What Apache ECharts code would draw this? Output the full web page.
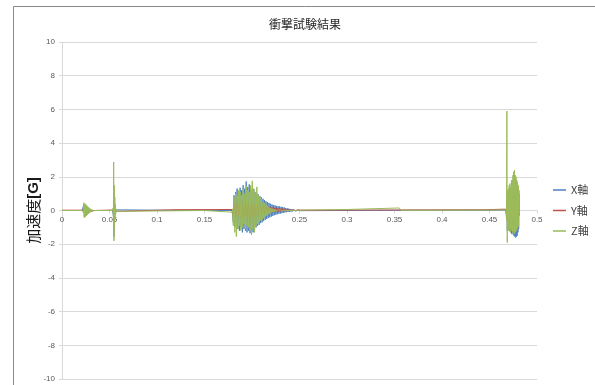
<!DOCTYPE html>
<html>
<head>
<meta charset="utf-8">
<script src="https://cdn.jsdelivr.net/npm/echarts@6/dist/echarts.min.js"></script>
<style>
  html, body { margin: 0; padding: 0; background: #fff; }
  #chart { width: 595px; height: 385px; }
</style>
</head>
<body>
<div id="chart"></div>
<script>
// Shock test record: acceleration [G] on three axes against time [s]

const seriesNames = ['X軸', 'Y軸', 'Z軸'];
const xTicks = { min: 0, max: 0.5, step: 0.05 };
const yTicks = { min: -10, max: 10, step: 2 };

// Quiet stretches between the shocks: [time, G]
const quietX = [[0, 0], [0.0213, 0], [0.0345, 0], [0.0532, 0], [0.0578, 0], [0.12, 0.01], [0.179, 0], [0.2525, 0.01], [0.35, 0.01], [0.467, 0.02]];
const quietY = [[0, 0.02], [0.0213, 0.02], [0.0345, 0.02], [0.0532, 0.03], [0.0578, 0.03], [0.12, 0.05], [0.179, 0.06], [0.2525, 0.05], [0.35, 0.03], [0.44, 0.04], [0.467, 0.08]];
const quietZ = [[0, 0], [0.0213, 0], [0.0345, 0], [0.0532, 0], [0.0578, 0], [0.15, 0], [0.179, -0.1], [0.2525, 0.02], [0.3, 0.06], [0.355, 0.15], [0.357, 0.01], [0.467, 0.03]];

// Recorded shocks: first sample time, sample step, samples per axis
const shock1Start = 0.0215, shock1Step = 0.0005;
const shock1X = [0, 0.04, -0.1, 0.38, -0.35, 0.33, -0.3, 0.28, -0.26, 0.23, -0.2, 0.18, -0.16, 0.14, -0.12, 0.1, -0.08, 0.07, -0.05, 0.04, -0.03, 0.02, -0.02, 0.01, 0, 0];
const shock1Y = [0, 0.02, -0.05, 0.12, -0.1, 0.1, -0.08, 0.08, -0.07, 0.06, -0.05, 0.05, -0.04, 0.03, -0.03, 0.02, -0.02, 0.02, -0.01, 0.01, 0, 0, 0, 0, 0, 0];
const shock1Z = [0, 0.06, -0.12, 0.46, -0.43, 0.41, -0.38, 0.36, -0.33, 0.3, -0.27, 0.24, -0.21, 0.19, -0.16, 0.14, -0.12, 0.1, -0.08, 0.07, -0.05, 0.04, -0.03, 0.02, -0.01, 0];

const shock2Start = 0.0535, shock2Step = 0.0003;
const shock2X = [0, 0.1, -0.3, 1.2, -1.55, 0.9, -0.6, 0.4, -0.25, 0.15, -0.08, 0.04, -0.02, 0];
const shock2Y = [0, 0.05, -0.1, 0.4, -0.35, 0.25, -0.15, 0.1, -0.06, 0.03, -0.02, 0.01, 0, 0];
const shock2Z = [0, 0.15, -0.4, 2.88, -1.8, 1.5, -1.1, 0.8, -0.55, 0.35, -0.2, 0.1, -0.05, 0];

const shock3Start = 0.1795, shock3Step = 0.0008;
const shock3X = [
  0.05, -0.7, 0.9, -1.0, 1.1, -0.9, 1.3, -1.1, 1.0, -1.2,
  1.35, -1.0, 1.2, -1.3, 1.5, -1.1, 1.3, -1.2, 1.72, -1.3,
  1.4, -1.2, 1.55, -1.35, 1.3, -1.25, 1.2, -1.3, 1.25, -1.1,
  1.1, -1.0, 1.0, -0.9, 0.95, -0.85, 0.85, -0.75, 0.78, -0.7,
  0.7, -0.62, 0.62, -0.55, 0.55, -0.5, 0.5, -0.45, 0.45, -0.4,
  0.4, -0.36, 0.36, -0.32, 0.32, -0.28, 0.3, -0.25, 0.27, -0.22,
  0.25, -0.2, 0.24, -0.18, 0.22, -0.16, 0.2, -0.14, 0.18, -0.12,
  0.15, -0.1, 0.13, -0.09, 0.11, -0.08, 0.09, -0.07, 0.08, -0.06,
  0.06, -0.05, 0.05, -0.04, 0.04, -0.03, 0.03, -0.02, 0.02, -0.01,
  0
];
const shock3Y = [
  0.05, -0.3, 0.35, -0.4, 0.3, -0.35, 0.45, -0.3, 0.4, -0.35,
  0.4, -0.45, 0.35, -0.4, 0.5, -0.35, 0.4, -0.45, 0.5, -0.4,
  0.45, -0.4, 0.4, -0.5, 0.45, -0.35, 0.4, -0.4, 0.35, -0.3,
  0.35, -0.3, 0.3, -0.25, 0.3, -0.22, 0.28, -0.2, 0.26, -0.18,
  0.25, -0.16, 0.24, -0.15, 0.22, -0.14, 0.22, -0.12, 0.2, -0.11,
  0.19, -0.1, 0.18, -0.09, 0.17, -0.08, 0.16, -0.07, 0.15, -0.06,
  0.14, -0.05, 0.13, -0.05, 0.12, -0.04, 0.11, -0.04, 0.1, -0.03,
  0.09, -0.03, 0.08, -0.02, 0.07, -0.02, 0.07, -0.01, 0.06, -0.01,
  0.05, 0, 0.05, 0, 0.04, 0, 0.04, 0.01, 0.03, 0.02,
  0.03
];
const shock3Z = [
  0.1, -0.9, 0.8, -1.3, 1.0, -1.55, 0.9, -1.1, 1.2, -0.9,
  1.1, -1.2, 0.9, -1.0, 1.3, -0.8, 1.0, -1.1, 1.45, -0.9,
  1.2, -1.0, 1.1, -1.2, 1.5, -1.45, 1.76, -1.1, 1.3, -1.3,
  1.1, -0.9, 1.4, -0.8, 0.9, -0.7, 0.8, -0.6, 0.7, -0.55,
  0.5, -0.45, 0.45, -0.35, 0.35, -0.3, 0.28, -0.22, 0.2, -0.18,
  0.15, -0.12, 0.12, -0.1, 0.09, -0.07, 0.07, -0.05, 0.05, -0.04,
  0.04, 0.03, -0.03, 0.03, -0.02, 0.02, -0.02, 0.02, -0.02, 0.02,
  -0.01, 0.01, -0.01, 0.01, -0.01, 0.01, 0, 0.01, 0, 0.01,
  0, 0.01, 0, 0.01, 0, 0.01, 0, 0.01, 0, 0.01,
  0.02
];

const shock4Start = 0.4675, shock4Step = 0.0004;
const shock4X = [
  0.05, -0.3, 1.0, -1.2, 1.1, -1.0, 1.2, -1.1, 1.3, -1.2,
  1.4, -1.25, 1.3, -1.3, 1.5, -1.4, 1.6, -1.3, 1.8, -1.45,
  1.9, -1.5, 2.0, -1.55, 1.8, -1.6, 1.7, -1.55, 1.6, -1.5,
  1.5, -1.3, 1.3, -1.1, 1.0, -0.3
];
const shock4Y = [
  0.05, -0.2, 0.5, -0.6, 0.4, -0.45, 0.5, -0.4, 0.45, -0.5,
  0.5, -0.45, 0.4, -0.5, 0.55, -0.4, 0.5, -0.45, 0.5, -0.5,
  0.6, -0.45, 0.55, -0.5, 0.5, -0.4, 0.45, -0.45, 0.4, -0.35,
  0.35, -0.3, 0.3, -0.25, 0.2, -0.05
];
const shock4Z = [
  0.1, -0.5, 5.9, -1.9, 1.2, -1.0, 1.3, -1.2, 1.5, -1.1,
  1.6, -1.3, 1.4, -1.2, 1.8, -1.1, 1.7, -1.3, 2.1, -1.2,
  2.3, -1.4, 2.4, -1.3, 2.1, -1.25, 2.0, -1.2, 1.8, -1.1,
  1.7, -1.0, 1.5, -0.9, 1.2, -0.2
];

// Attach time stamps to a run of evenly sampled readings
function sampled(t0, dt, values) {
  return values.map((v, i) => [+(t0 + i * dt).toFixed(5), v]);
}

function trace(quiet, shocks) {
  const pts = quiet.slice();
  shocks.forEach(s => pts.push(...sampled(s[0], s[1], s[2])));
  return pts.sort((a, b) => a[0] - b[0]);
}

const dataX = trace(quietX, [[shock1Start, shock1Step, shock1X], [shock2Start, shock2Step, shock2X], [shock3Start, shock3Step, shock3X], [shock4Start, shock4Step, shock4X]]);
const dataY = trace(quietY, [[shock1Start, shock1Step, shock1Y], [shock2Start, shock2Step, shock2Y], [shock3Start, shock3Step, shock3Y], [shock4Start, shock4Step, shock4Y]]);
const dataZ = trace(quietZ, [[shock1Start, shock1Step, shock1Z], [shock2Start, shock2Step, shock2Z], [shock3Start, shock3Step, shock3Z], [shock4Start, shock4Step, shock4Z]]);

const colors = ['#4F81BD', '#C0504D', '#9BBB59'];
const labelFont = "'Liberation Sans', 'Noto Sans CJK JP', sans-serif";
const cjkFont = "'Noto Sans CJK JP', sans-serif";

// Plot box; the time axis runs along the zero line in its middle
const gridBox = { left: 62, right: 58, top: 42, bottom: 6 };
const plotHeight = 385 - gridBox.top - gridBox.bottom;
const zeroLineOffset = -plotHeight * (0 - yTicks.min) / (yTicks.max - yTicks.min);

const chart = echarts.init(document.getElementById('chart'), null, { renderer: 'canvas' });

function lineSeries(name, data, color) {
  return {
    name: name,
    type: 'line',
    data: data,
    symbol: 'none',
    showSymbol: false,
    sampling: 'none',
    animation: false,
    lineStyle: { width: 1, color: color },
    itemStyle: { color: color },
    emphasis: { disabled: true }
  };
}

chart.setOption({
  animation: false,
  color: colors,
  graphic: [{
    type: 'rect',
    shape: { x: 13.5, y: 6.5, width: 620, height: 420 },
    style: { fill: 'none', stroke: '#8a8a8a', lineWidth: 1 },
    silent: true
  }],
  title: {
    text: '衝撃試験結果',
    left: 300,
    top: 13,
    textAlign: 'center',
    textStyle: { fontFamily: cjkFont, fontSize: 12, fontWeight: 'normal', color: '#262626' }
  },
  legend: {
    orient: 'vertical',
    left: 553,
    top: 183,
    padding: 0,
    icon: 'rect',
    itemWidth: 13,
    itemHeight: 1.5,
    itemGap: 6.5,
    data: seriesNames,
    textStyle: { fontFamily: cjkFont, fontSize: 11, color: '#404040', lineHeight: 14 }
  },
  grid: { left: gridBox.left, right: gridBox.right, top: gridBox.top, bottom: gridBox.bottom, containLabel: false },
  xAxis: {
    type: 'value',
    min: xTicks.min,
    max: xTicks.max,
    interval: xTicks.step,
    offset: zeroLineOffset,
    axisLine: { onZero: false, lineStyle: { color: '#d9d9d9', width: 1 } },
    axisTick: { show: true, length: 3, lineStyle: { color: '#d9d9d9' } },
    splitLine: { show: false },
    axisLabel: { fontFamily: labelFont, fontSize: 8, color: '#595959', margin: 5, showMaxLabel: true, showMinLabel: true }
  },
  yAxis: {
    type: 'value',
    min: yTicks.min,
    max: yTicks.max,
    interval: yTicks.step,
    name: '{n|加速度}{g|[G]}',
    nameLocation: 'middle',
    nameGap: 21,
    nameMoveOverlap: false,
    nameRotate: 90,
    nameTextStyle: {
      rich: {
        n: { fontFamily: cjkFont, fontSize: 15, color: '#1a1a1a' },
        g: { fontFamily: labelFont, fontSize: 15, fontWeight: 'bold', color: '#1a1a1a' }
      }
    },
    axisLine: { show: true, lineStyle: { color: '#d9d9d9', width: 1 } },
    axisTick: { show: true, length: 3, lineStyle: { color: '#d9d9d9' } },
    splitLine: { show: true, lineStyle: { color: '#d9d9d9', width: 1 } },
    axisLabel: { fontFamily: labelFont, fontSize: 8, color: '#595959', margin: 7 }
  },
  series: [
    lineSeries(seriesNames[0], dataX, colors[0]),
    lineSeries(seriesNames[1], dataY, colors[1]),
    lineSeries(seriesNames[2], dataZ, colors[2])
  ]
});
</script>
</body>
</html>
